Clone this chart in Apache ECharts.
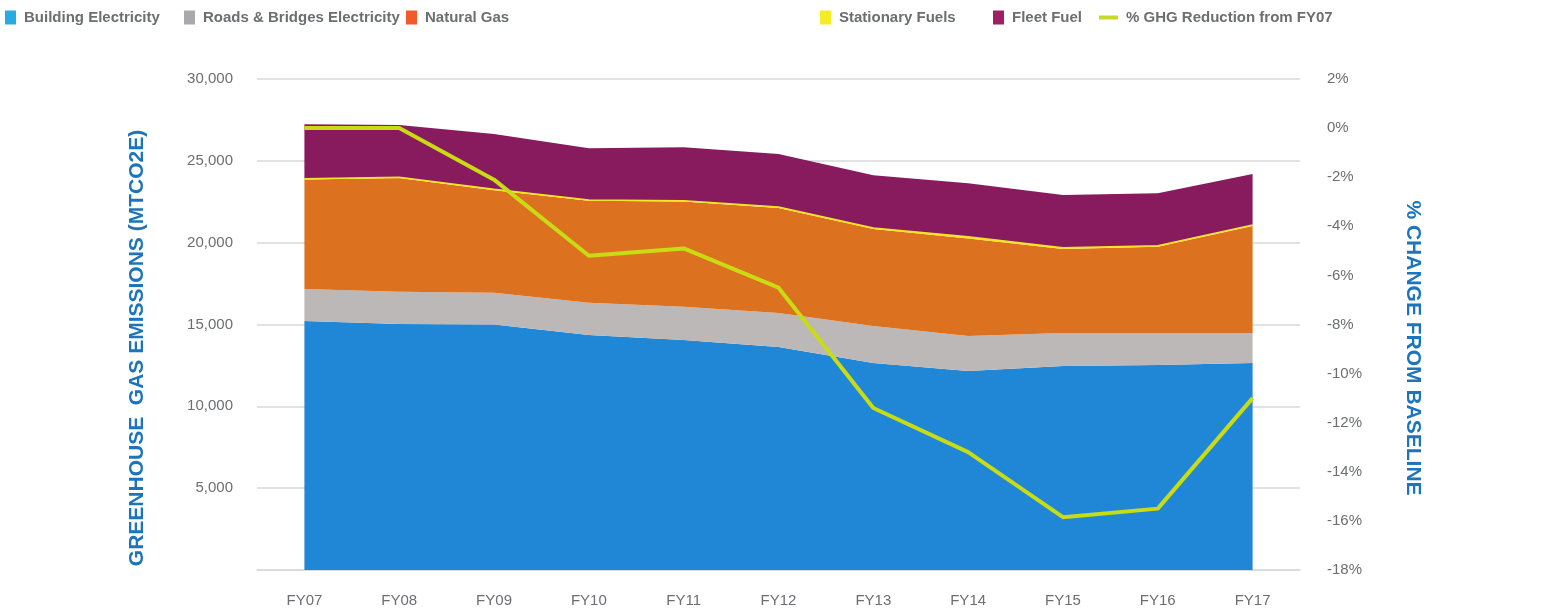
<!DOCTYPE html>
<html>
<head>
<meta charset="utf-8">
<script src="https://cdn.jsdelivr.net/npm/echarts@6/dist/echarts.min.js"></script>
<style>
  html, body { margin: 0; padding: 0; background: #fff; }
  #chart { width: 1561px; height: 613px; }
</style>
</head>
<body>
<div id="chart"></div>
<script>
var years = ['FY07', 'FY08', 'FY09', 'FY10', 'FY11', 'FY12', 'FY13', 'FY14', 'FY15', 'FY16', 'FY17'];

// MTCO2E, stacked
var buildingElec = [15210, 15030, 15000, 14360, 14050, 13630, 12650, 12160, 12460, 12530, 12650];
var roadsElec    = [1960, 1970, 1940, 1970, 2040, 2070, 2260, 2140, 2020, 1950, 1830];
var naturalGas   = [6690, 6950, 6260, 6230, 6420, 6420, 5930, 5950, 5130, 5270, 6540];
var stationary   = [40, 40, 60, 50, 50, 60, 60, 110, 80, 60, 60];
var fleetFuel    = [3330, 3200, 3380, 3160, 3270, 3240, 3220, 3270, 3220, 3210, 3120];

// % change from FY07
var ghgReduction = [0.0, 0.0, -2.1, -5.2, -4.9, -6.5, -11.4, -13.2, -15.85, -15.5, -11.0];

var leftTicks = [0, 30000, 5000];
var rightTicks = [-18, 2, 2];

var font = '"Liberation Sans Narrow", "Liberation Sans", sans-serif';
var grey = '#6d6e71';
var titleBlue = '#1c75bc';

function legendItem(name, color, left, icon) {
  return {
    top: 10,
    left: left,
    icon: icon || 'rect',
    itemWidth: icon ? 19 : 11,
    itemHeight: icon ? 4 : 14,
    padding: 0,
    selectedMode: false,
    textStyle: { color: grey, fontFamily: font, fontSize: 15, fontWeight: 'bold', padding: [0, 0, 0, 3] },
    data: [{ name: name, itemStyle: { color: color } }]
  };
}

function areaSeries(name, data, color, edge) {
  return {
    name: name,
    type: 'line',
    stack: 'total',
    data: data,
    symbol: 'none',
    itemStyle: { color: color },
    lineStyle: { width: edge ? 1.5 : 0, color: color },
    areaStyle: { color: color, opacity: 1 },
    emphasis: { disabled: true }
  };
}

var chart = echarts.init(document.getElementById('chart'));
chart.setOption({
  animation: false,
  legend: [
    legendItem('Building Electricity', '#29abe2', 5),
    legendItem('Roads & Bridges Electricity', '#a7a9ac', 184),
    legendItem('Natural Gas', '#f15a29', 406),
    legendItem('Stationary Fuels', '#f4ec25', 820),
    legendItem('Fleet Fuel', '#9e1f63', 993),
    legendItem('% GHG Reduction from FY07', '#c6d82b', 1099, 'rect')
  ],
  grid: { left: 257, right: 261, top: 79, bottom: 43 },
  xAxis: {
    type: 'category',
    data: years,
    boundaryGap: true,
    axisLine: { show: true, lineStyle: { color: '#d9d9d9', width: 1.5 } },
    axisTick: { show: false },
    axisLabel: { color: grey, fontFamily: font, fontSize: 15, margin: 23 }
  },
  yAxis: [
    {
      type: 'value',
      min: leftTicks[0],
      max: leftTicks[1],
      interval: leftTicks[2],
      axisLine: { show: false },
      axisTick: { show: false },
      splitLine: { lineStyle: { color: '#d9d9d9', width: 1.5 } },
      axisLabel: {
        color: grey, fontFamily: font, fontSize: 15, margin: 24,
        formatter: function (v) { return v === 0 ? '' : v.toLocaleString('en-US'); }
      }
    },
    {
      type: 'value',
      min: rightTicks[0],
      max: rightTicks[1],
      interval: rightTicks[2],
      axisLine: { show: false },
      axisTick: { show: false },
      splitLine: { show: false },
      axisLabel: { color: grey, fontFamily: font, fontSize: 15, margin: 27, formatter: '{value}%' }
    }
  ],
  graphic: [
    {
      type: 'text',
      x: 137, y: 348,
      rotation: Math.PI / 2,
      style: {
        text: 'GREENHOUSE  GAS EMISSIONS (MTCO2E)',
        fill: titleBlue, font: 'bold 21px ' + font,
        align: 'center', verticalAlign: 'middle'
      }
    },
    {
      type: 'text',
      x: 1413, y: 348,
      rotation: -Math.PI / 2,
      style: {
        text: '% CHANGE FROM BASELINE',
        fill: titleBlue, font: 'bold 21px ' + font,
        align: 'center', verticalAlign: 'middle'
      }
    }
  ],
  series: [
    areaSeries('Building Electricity', buildingElec, '#2087d6'),
    areaSeries('Roads & Bridges Electricity', roadsElec, '#bcb8b7'),
    areaSeries('Natural Gas', naturalGas, '#dc711f'),
    areaSeries('Stationary Fuels', stationary, '#f4e425', true),
    areaSeries('Fleet Fuel', fleetFuel, '#881a5e'),
    {
      name: '% GHG Reduction from FY07',
      type: 'line',
      yAxisIndex: 1,
      data: ghgReduction,
      symbol: 'none',
      z: 5,
      itemStyle: { color: '#c9dc13' },
      lineStyle: { color: '#c9dc13', width: 4 },
      emphasis: { disabled: true }
    }
  ]
});
</script>
</body>
</html>
